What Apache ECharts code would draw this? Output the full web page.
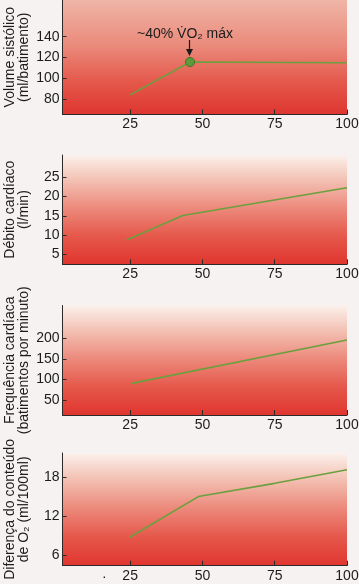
<!DOCTYPE html>
<html>
<head>
<meta charset="utf-8">
<script src="https://cdn.jsdelivr.net/npm/echarts@6/dist/echarts.min.js"></script>
<style>
html,body{margin:0;padding:0;background:#f6f2f1;}
#c{width:359px;height:584px;}
</style>
</head>
<body>
<div id="c"></div>
<script>
// ---- data ----
const xTicks = [25, 50, 75, 100];

const strokeX = [25, 45.7, 100];
const strokeVolume = [84, 115.7, 115];
const strokeTicks = [80, 100, 120, 140];

const cardiacX = [23.8, 43.2, 100];
const cardiacOutput = [8.7, 15.1, 22.3];
const cardiacTicks = [5, 10, 15, 20, 25];

const heartX = [25.5, 100];
const heartRate = [90.5, 196];
const heartTicks = [50, 100, 150, 200];

const o2X = [24.7, 48.6, 75, 100];
const o2Diff = [8.7, 15.05, 17.1, 19.2];
const o2Ticks = [6, 12, 18];

const yNames = [
  'Volume sistólico\n(ml/batimento)',
  'Débito cardíaco\n(l/min)',
  'Frequência cardíaca\n(batimentos por minuto)',
  'Diferença do conteúdo\nde O₂ (ml/100ml)'
];
const annotationText = '~40% V̇O₂ máx';

// ---- layout / style ----
const FONT = '"Liberation Sans", Arial, Helvetica, sans-serif';
const TXT = '#1c1c1c';
const grids = [
  {top: 0, height: 114.5, grad: [[0,'#efb5a6'],[0.4,'#ea8a7b'],[0.72,'#e4584b'],[1,'#df3530']]},
  {top: 155, height: 109.3, grad: [[0,'#fbf1ec'],[0.22,'#f3c3b5'],[0.48,'#ec8b7d'],[0.75,'#e5574a'],[1,'#e0352f']]},
  {top: 305.5, height: 109.5, grad: [[0,'#fbf1ec'],[0.22,'#f3c3b5'],[0.48,'#ec8b7d'],[0.75,'#e5574a'],[1,'#e0352f']]},
  {top: 453, height: 112.7, grad: [[0,'#fbf1ec'],[0.22,'#f3c3b5'],[0.48,'#ec8b7d'],[0.75,'#e5574a'],[1,'#e0352f']]}
];
const yRanges = [[65.1, 175.4], [2.4, 30.8], [13.6, 279.6], [4.34, 21.8]];
const yTickSets = [strokeTicks, cardiacTicks, heartTicks, o2Ticks];
const xs = [strokeX, cardiacX, heartX, o2X];
const ys = [strokeVolume, cardiacOutput, heartRate, o2Diff];

const chart = echarts.init(document.getElementById('c'), null, {renderer: 'canvas'});

const option = {
  backgroundColor: '#f6f2f1',
  animation: false,
  textStyle: {fontFamily: FONT},
  grid: grids.map(g => ({
    left: 62.5, right: 12, top: g.top, height: g.height,
    containLabel: false, outerBoundsMode: 'none',
    show: true, borderWidth: 0,
    backgroundColor: new echarts.graphic.LinearGradient(0, 0, 0, 1,
      g.grad.map(s => ({offset: s[0], color: s[1]})))
  })),
  xAxis: grids.map((g, i) => ({
    type: 'value', gridIndex: i, min: 1.6, max: 100,
    axisLine: {show: true, onZero: false, lineStyle: {color: '#2a2a2a', width: 1}},
    axisTick: {show: true, inside: true, length: 5, customValues: xTicks, lineStyle: {color: '#2a2a2a'}},
    axisLabel: {show: true, customValues: xTicks, margin: 3, fontSize: 14, color: TXT, fontFamily: FONT},
    splitLine: {show: false}
  })),
  yAxis: grids.map((g, i) => ({
    type: 'value', gridIndex: i, min: yRanges[i][0], max: yRanges[i][1],
    name: yNames[i], nameLocation: 'middle', nameRotate: 90, nameGap: 31,
    nameMoveOverlap: false,
    nameTextStyle: {fontSize: 14, lineHeight: 14.5, color: TXT, fontFamily: FONT},
    axisLine: {show: true, onZero: false, lineStyle: {color: '#2a2a2a', width: 1}},
    axisTick: {show: true, inside: true, length: 4, customValues: yTickSets[i], lineStyle: {color: '#2a2a2a'}},
    axisLabel: {show: true, customValues: yTickSets[i], margin: 3, fontSize: 14, color: TXT, fontFamily: FONT},
    splitLine: {show: false}
  })),
  series: grids.map((g, i) => ({
    type: 'line', xAxisIndex: i, yAxisIndex: i,
    data: xs[i].map((x, j) => ({
      value: [x, ys[i][j]],
      symbolSize: (i === 0 && j === 1) ? 9 : 0
    })),
    symbol: 'circle',
    showSymbol: true,
    itemStyle: {color: '#5e9a3b', borderColor: '#3e7426', borderWidth: 1},
    lineStyle: {color: '#6c9f3e', width: 1.6},
    emphasis: {disabled: true},
    z: 3
  }))
};
chart.setOption(option);

// annotation positioned from the data point through the axes
const p = chart.convertToPixel({xAxisIndex: 0, yAxisIndex: 0}, [strokeX[1], strokeVolume[1]]);
chart.setOption({
  graphic: [
    {type: 'text', x: p[0] - 5, y: p[1] - 28, z: 10,
     style: {text: annotationText, fontSize: 14, fontFamily: FONT, fill: TXT, align: 'center', verticalAlign: 'middle'}},
    {type: 'line', z: 10, shape: {x1: p[0] - 0.5, y1: p[1] - 22, x2: p[0] - 0.5, y2: p[1] - 10},
     style: {stroke: '#1c1c1c', lineWidth: 1.2}},
    {type: 'polygon', z: 10, shape: {points: [[p[0] - 4, p[1] - 13], [p[0] + 3, p[1] - 13], [p[0] - 0.5, p[1] - 6]]},
     style: {fill: '#1c1c1c'}},
    {type: 'text', x: 102, y: 570, z: 10,
     style: {text: '·', fontSize: 14, fontFamily: FONT, fill: TXT}}
  ]
});
</script>
</body>
</html>
